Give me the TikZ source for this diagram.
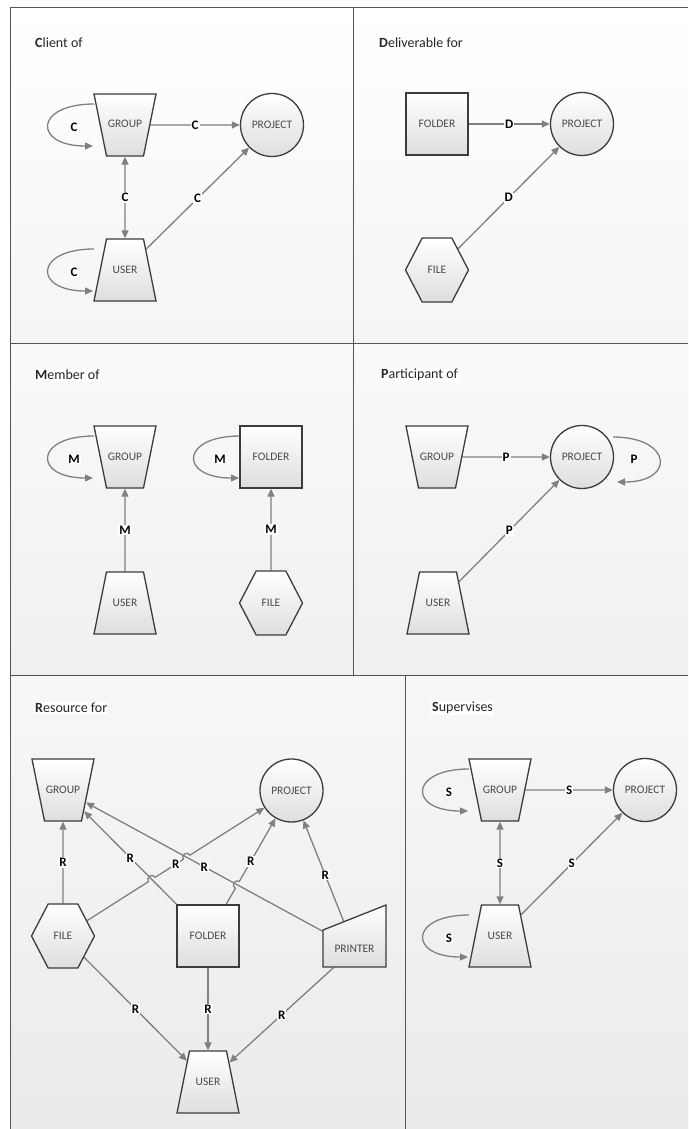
\documentclass[tikz,border=0pt]{standalone}
\usepackage{fontspec}
\setmainfont{Carlito}
\usetikzlibrary{shapes.geometric,shapes.symbols,arrows.meta,calc,intersections}
\pgfdeclarelayer{bg}
\pgfdeclarelayer{edges}
\pgfsetlayers{bg,edges,main}

\definecolor{edgecol}{HTML}{808080}
\definecolor{bordcol}{HTML}{3C3C3C}
\definecolor{txtcol}{HTML}{4A4A4A}
\definecolor{framecol}{HTML}{555555}

\tikzset{
 shp/.style={draw=bordcol, line width=1.3pt, top color=white, bottom color=black!13, text=txtcol, font=\fontsize{11.5}{13}\selectfont, inner sep=0pt},
 trap/.style={shp, trapezium, trapezium left angle=78.6, trapezium right angle=78.6, text width=36pt, align=center, text height=8.5pt, text depth=2.5pt, inner xsep=0.5pt, inner ysep=25.5pt},
 grp/.style={trap, shape border rotate=180},
 usr/.style={trap},
 prj/.style={shp, circle, minimum size=63pt},
 fld/.style={shp, rectangle, minimum size=62pt},
 fil/.style={shp, signal, signal to=east and west, signal pointer angle=125, minimum width=63pt, minimum height=64pt},
 arr/.style={draw=edgecol, line width=1.3pt, -{Triangle[length=8pt,width=7pt]}},
 darr/.style={draw=edgecol, line width=1.3pt, {Triangle[length=8pt,width=7pt]}-{Triangle[length=8pt,width=7pt]}},
 lbl/.style={fill=white, inner sep=1pt, font=\bfseries\fontsize{13}{13}\selectfont, text=black},
 ttl/.style={fill=white, inner sep=1pt, anchor=west, font=\fontsize{14}{16}\selectfont, text=black!85},
}

\newcommand\leftloop[2]{%
  \draw[arr] ($(#1)+(-31,21)$) .. controls +(-60,0) and +(-60,0) .. ($(#1)+(-32,-21)$);
  \node[lbl] at ($(#1)+(-51,-2)$) {#2};}

\begin{document}
\begin{tikzpicture}[x=1pt,y=1pt]
\useasboundingbox (0,0) rectangle (688,-1129);

\begin{pgfonlayer}{bg}
  \shade[top color=white, bottom color=black!4] (10,-7) rectangle (353,-343);
  \shade[top color=white, bottom color=black!4] (353,-7) rectangle (688,-343);
  \shade[top color=black!2, bottom color=black!6] (10,-343) rectangle (353,-675);
  \shade[top color=black!2, bottom color=black!6] (353,-343) rectangle (688,-675);
  \shade[top color=black!3, bottom color=black!8] (10,-675) rectangle (405,-1129);
  \shade[top color=black!3, bottom color=black!8] (405,-675) rectangle (688,-1129);
  \draw[framecol, line width=0.9pt] (10,-1129) -- (10,-7) -- (688,-7);
  \draw[framecol, line width=0.9pt] (10,-343) -- (688,-343);
  \draw[framecol, line width=0.9pt] (10,-675) -- (688,-675);
  \draw[framecol, line width=0.9pt] (353,-7) -- (353,-675);
  \draw[framecol, line width=0.9pt] (405,-675) -- (405,-1129);
\end{pgfonlayer}

% titles
\node[ttl] (t1) at (34,-43) {\textbf{C}lient of};
\node[ttl] (t2) at (378,-43) {\textbf{D}eliverable for};
\node[ttl] (t3) at (34,-375) {\textbf{M}ember of};
\node[ttl] (t4) at (380,-375) {\textbf{P}articipant of};
\node[ttl] (t5) at (34,-708) {\textbf{R}esource for};
\node[ttl] (t6) at (431,-708) {\textbf{S}upervises};

% panel 1
\node[grp] (g1) at (125,-125) {GROUP};
\node[prj] (p1) at (272,-125) {PROJECT};
\node[usr] (u1) at (125,-270) {USER};
% panel 2
\node[fld] (f2) at (437,-124) {FOLDER};
\node[prj] (p2) at (582,-124) {PROJECT};
\node[fil] (fi2) at (437,-270) {FILE};
% panel 3
\node[grp] (g3) at (125,-457) {GROUP};
\node[fld] (fo3) at (271,-457) {FOLDER};
\node[usr] (u3) at (125,-603) {USER};
\node[fil] (fi3) at (271,-603) {FILE};
% panel 4
\node[grp] (g4) at (437,-457) {GROUP};
\node[prj] (p4) at (582,-457) {PROJECT};
\node[usr] (u4) at (438,-603) {USER};
% panel 5
\node[grp] (g5) at (63,-790) {GROUP};
\node[prj] (p5) at (291.5,-790.5) {PROJECT};
\node[fil] (fi5) at (63,-936) {FILE};
\node[fld] (fo5) at (208,-936) {FOLDER};
\shade[draw=bordcol, line width=1.3pt, top color=white, bottom color=black!13]
  (323,-930) -- (386,-905) -- (386,-967) -- (323,-967) -- cycle;
\node[text=txtcol, font=\fontsize{11.5}{13}\selectfont, minimum width=63pt, minimum height=37pt, inner sep=0pt] (pr5) at (354.5,-948.5) {PRINTER};
\node[usr] (u5) at (208,-1082) {USER};
% panel 6
\node[grp] (g6) at (500,-790) {GROUP};
\node[prj] (p6) at (645,-790) {PROJECT};
\node[usr] (u6) at (500,-936) {USER};

\begin{pgfonlayer}{edges}
  % panel 1
  \draw[arr] (g1) -- node[lbl]{C} (p1);
  \draw[darr] (g1) -- node[lbl]{C} (u1);
  \draw[arr] (u1) -- node[lbl]{C} (p1);
  \leftloop{g1}{C}
  \leftloop{u1}{C}
  % panel 2
  \draw[arr] (f2) -- node[lbl]{D} (p2);
  \draw[arr] (fi2) -- node[lbl]{D} (p2);
  % panel 3
  \draw[arr] (u3) -- node[lbl]{M} (g3);
  \draw[arr] (fi3) -- node[lbl]{M} (fo3);
  \leftloop{g3}{M}
  \leftloop{fo3}{M}
  % panel 4
  \draw[arr] (g4) -- node[lbl]{P} (p4);
  \draw[arr] (u4) -- node[lbl]{P} (p4);
  \draw[arr] ($(p4)+(31,20)$) .. controls +(59,0) and +(59,0) .. ($(p4)+(35,-25)$);
  \node[lbl] at ($(p4)+(52,-2)$) {P};
  % panel 5
  \path[name path=fp] (fi5.center) -- (p5.center);
  \path[name path=fg] (fo5.center) -- (g5.center);
  \path[name path=rg] (pr5.center) -- (g5.center);
  \path[name path=op] (fo5.center) -- (p5.center);
  \path[name intersections={of=fp and fg, by=h1}];
  \path[name intersections={of=fp and rg, by=h2}];
  \path[name intersections={of=op and rg, by=h3}];
  \draw[arr] (fi5) -- node[lbl]{R} (g5);
  \draw[arr] (fo5) -- node[lbl]{R} (g5);
  \draw[arr] (pr5) -- node[lbl]{R} (g5);
  \draw[arr] (fi5) -- ($(h1)!4pt!(fi5)$) arc[start angle=212.5, end angle=32.5, radius=4pt]
     -- ($(h2)!4pt!(fi5)$) arc[start angle=212.5, end angle=32.5, radius=4pt] -- (p5);
  \path (fi5) -- node[lbl]{R} (p5);
  \draw[arr] (fo5) -- ($(h3)!4pt!(fo5)$) arc[start angle=240.2, end angle=60.2, radius=4pt] -- (p5);
  \path (fo5) -- node[lbl]{R} (p5);
  \draw[arr] (pr5) -- node[lbl]{R} (p5);
  \draw[arr] (fi5) -- node[lbl]{R} (u5);
  \draw[arr] (fo5) -- node[lbl]{R} (u5);
  \draw[arr] (pr5) -- node[lbl]{R} (u5);
  % panel 6
  \draw[arr] (g6) -- node[lbl]{S} (p6);
  \draw[darr] (g6) -- node[lbl]{S} (u6);
  \draw[arr] (u6) -- node[lbl]{S} (p6);
  \leftloop{g6}{S}
  \leftloop{u6}{S}
\end{pgfonlayer}
\end{tikzpicture}
\end{document}
